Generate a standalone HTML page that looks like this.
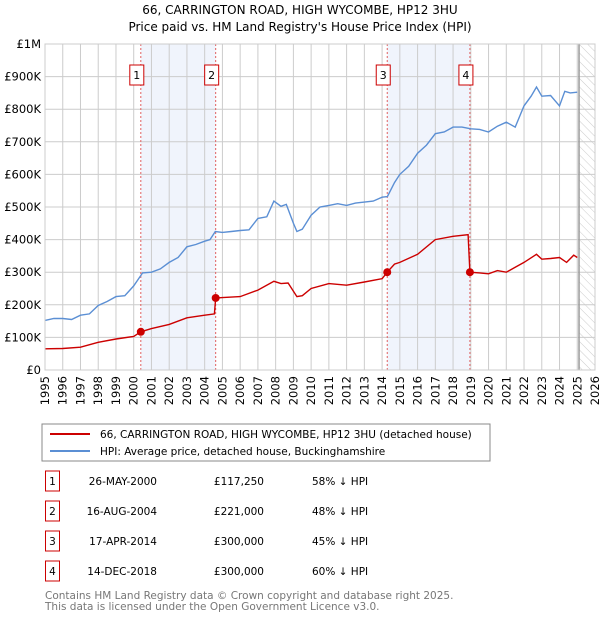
<!DOCTYPE html>
<html><head><meta charset="utf-8"><style>
body{margin:0;background:#fff;font-family:"DejaVu Sans","Liberation Sans",sans-serif;}
svg text{font-family:"DejaVu Sans","Liberation Sans",sans-serif;}
</style></head><body>
<svg id="c" width="600" height="620" xmlns="http://www.w3.org/2000/svg">
<defs><pattern id="hatch" width="6" height="6" patternUnits="userSpaceOnUse" patternTransform="rotate(-45)"><line x1="0" y1="0" x2="0" y2="6" stroke="#ccc" stroke-width="1"/></pattern></defs>
<text x="300" y="14" text-anchor="middle" font-size="12">66, CARRINGTON ROAD, HIGH WYCOMBE, HP12 3HU</text>
<text x="300" y="31" text-anchor="middle" font-size="12">Price paid vs. HM Land Registry's House Price Index (HPI)</text>
<g id="plot"></g>
<rect x="42" y="424" width="448" height="37" fill="#fff" stroke="#888"/>
<line x1="50" y1="434" x2="90" y2="434" stroke="#cc0000" stroke-width="2"/>
<text x="100" y="438" font-size="10.5">66, CARRINGTON ROAD, HIGH WYCOMBE, HP12 3HU (detached house)</text>
<line x1="50" y1="451" x2="90" y2="451" stroke="#5b8fd4" stroke-width="2"/>
<text x="100" y="455" font-size="10.5">HPI: Average price, detached house, Buckinghamshire</text>
<g id="table" font-size="10.5"></g>
<text x="45" y="599" font-size="10.5" fill="#777">Contains HM Land Registry data © Crown copyright and database right 2025.</text>
<text x="45" y="610" font-size="10.5" fill="#777">This data is licensed under the Open Government Licence v3.0.</text>
</svg>
<script>
const hpiYears=[1995,1995.5,1996,1996.5,1997,1997.5,1998,1998.5,1999,1999.5,2000,2000.5,2001,2001.5,2002,2002.5,2003,2003.5,2004,2004.3,2004.6,2005,2005.5,2006,2006.5,2007,2007.5,2007.9,2008.3,2008.6,2009,2009.2,2009.5,2010,2010.5,2011,2011.5,2012,2012.5,2013,2013.5,2014,2014.3,2014.7,2015,2015.5,2016,2016.5,2017,2017.5,2018,2018.5,2019,2019.5,2020,2020.5,2021,2021.5,2022,2022.4,2022.7,2023,2023.5,2024,2024.3,2024.6,2025];
const hpiValues=[152,158,158,155,168,172,198,210,225,228,258,298,300,310,330,345,378,385,395,400,425,422,425,428,430,465,470,518,502,508,450,425,432,475,500,505,510,505,512,515,518,530,532,575,600,625,665,690,725,730,745,745,740,738,730,748,760,745,810,840,868,840,842,810,855,850,852];
const ppYears=[1995,1996,1997,1998,1999,2000,2000.4,2001,2002,2003,2004,2004.55,2004.62,2005,2006,2007,2007.9,2008.3,2008.7,2009.2,2009.5,2010,2011,2012,2013,2014,2014.29,2014.7,2015,2016,2017,2018,2018.85,2018.95,2019.5,2020,2020.5,2021,2021.5,2022,2022.7,2023,2023.5,2024,2024.4,2024.8,2025];
const ppValues=[65,66,70,85,95,103,117.25,127,140,160,168,172,221,222,225,245,272,265,267,225,228,250,265,260,270,280,300,325,330,355,400,410,415,300,298,295,305,300,315,330,355,340,342,345,330,352,345];
const saleLabels=["1","2","3","4"];
const saleYears=[2000.4,2004.62,2014.29,2018.95];
const saleValues=[117.25,221,300,300];
const saleDates=["26-MAY-2000","16-AUG-2004","17-APR-2014","14-DEC-2018"];
const salePrices=["£117,250","£221,000","£300,000","£300,000"];
const saleDiffs=["58% ↓ HPI","48% ↓ HPI","45% ↓ HPI","60% ↓ HPI"];
const yTicks=[0,100,200,300,400,500,600,700,800,900,1000];
const yTickLabels=["£0","£100K","£200K","£300K","£400K","£500K","£600K","£700K","£800K","£900K","£1M"];
const xTicks=[1995,1996,1997,1998,1999,2000,2001,2002,2003,2004,2005,2006,2007,2008,2009,2010,2011,2012,2013,2014,2015,2016,2017,2018,2019,2020,2021,2022,2023,2024,2025,2026];
const X0=45,X1=595,Y0=370,Y1=44;
const xs=y=>X0+(y-1995)/(2026-1995)*(X1-X0);
const ys=v=>Y0-v/1000*(Y0-Y1);
const NS="http://www.w3.org/2000/svg";
const plot=document.getElementById('plot');
function mk(tag,attrs,parent){const e=document.createElementNS(NS,tag);for(const k in attrs)e.setAttribute(k,attrs[k]);(parent||plot).appendChild(e);return e;}
for(let i=0;i<saleYears.length;i+=2){const r=mk('rect',{x:xs(saleYears[i]),y:Y1,width:xs(saleYears[i+1])-xs(saleYears[i]),height:Y0-Y1,fill:'#f0f4fc'});

}
const hz=mk('rect',{x:xs(2025.1),y:Y1,width:X1-xs(2025.1),height:Y0-Y1,fill:'url(#hatch)'});


yTicks.forEach((t,i)=>{const l=mk('line',{x1:X0,x2:X1,y1:ys(t),y2:ys(t),stroke:'#ccc'});


const tx=mk('text',{x:X0-4,y:ys(t)+4,'text-anchor':'end','font-size':'11.5'});tx.textContent=yTickLabels[i];

});
xTicks.forEach(t=>{const l=mk('line',{x1:xs(t),x2:xs(t),y1:Y1,y2:Y0,stroke:'#ccc'});


const tx=mk('text',{x:0,y:0,'text-anchor':'end','font-size':'11.5',transform:`translate(${xs(t)+4},${Y0+6}) rotate(-90)`});tx.textContent=t;

});
const ln=mk('line',{x1:xs(2025.1),x2:xs(2025.1),y1:Y1,y2:Y0,stroke:'#999','stroke-width':1.5});


saleYears.forEach(s=>{const l=mk('line',{x1:xs(s),x2:xs(s),y1:Y1,y2:Y0,stroke:'#e06060','stroke-dasharray':'2,2'});

});
function path(xa,va,color,name){const d=xa.map((x,i)=>(i?'L':'M')+xs(x).toFixed(1)+','+ys(va[i]).toFixed(1)).join('');
const p=mk('path',{d:d,fill:'none',stroke:color,'stroke-width':1.4});

}
path(hpiYears,hpiValues,'#5b8fd4','hpi-line');
path(ppYears,ppValues,'#cc0000','property-line');
saleYears.forEach((s,i)=>{const c=mk('circle',{cx:xs(s),cy:ys(saleValues[i]),r:4,fill:'#cc0000'});


const g=mk('g',{});


mk('rect',{x:xs(s)-11,y:65,width:14,height:20,fill:'#fff',stroke:'#cc0000'},g);
const t=mk('text',{x:xs(s)-4,y:79,'text-anchor':'middle','font-size':'11'},g);t.textContent=saleLabels[i];});
mk('rect',{x:X0,y:Y1,width:X1-X0,height:Y0-Y1,fill:'none',stroke:'#ccc'});
const tb=document.getElementById('table');
const rowY=[483,513,543,573];
saleLabels.forEach((l,i)=>{const g=mk('g',{},tb);


const y=rowY[i];
mk('rect',{x:45.5,y:y-12,width:14,height:20,fill:'#fff',stroke:'#cc0000'},g);
let t=mk('text',{x:52.5,y:y+2,'text-anchor':'middle'},g);t.textContent=l;
t=mk('text',{x:157,y:y+2,'text-anchor':'end'},g);t.textContent=saleDates[i];
t=mk('text',{x:264,y:y+2,'text-anchor':'end'},g);t.textContent=salePrices[i];
t=mk('text',{x:312,y:y+2},g);t.textContent=saleDiffs[i];});
</script>
</body></html>
